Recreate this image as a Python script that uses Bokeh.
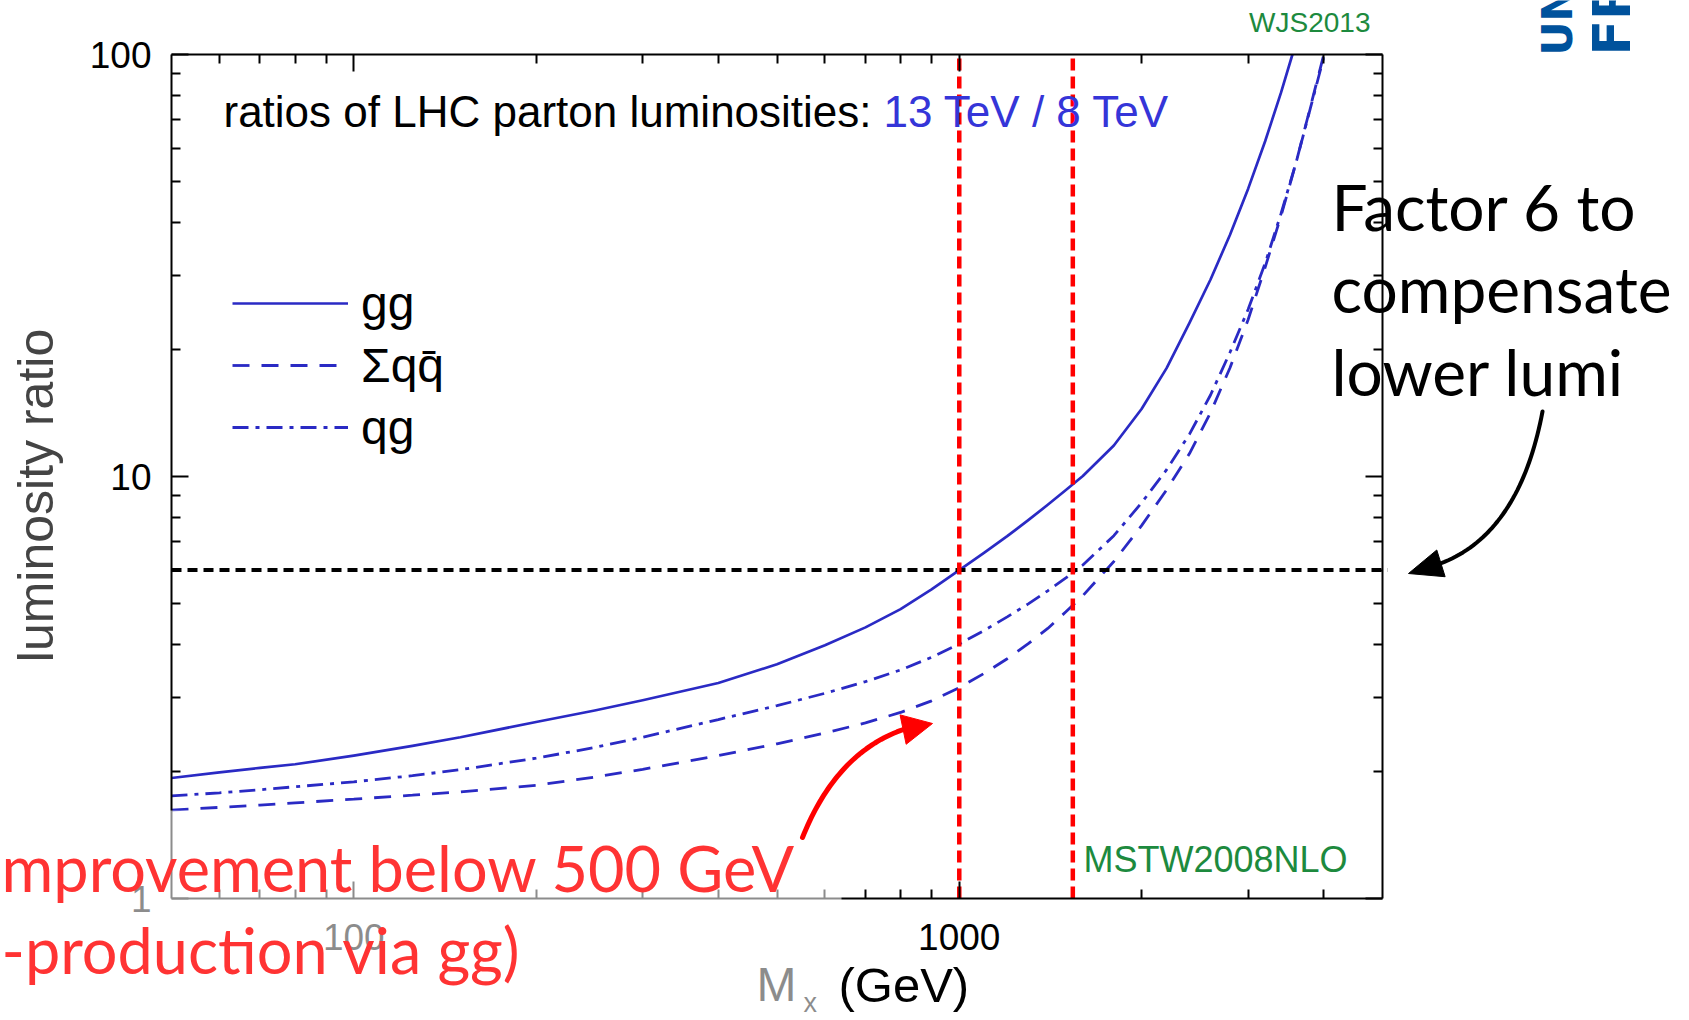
from math import log10, pi, hypot

from bokeh.plotting import figure
from bokeh.models import (Range1d, LogAxis, FixedTicker, PrintfTickFormatter,
                          CustomJSTickFormatter, Label, BoxAnnotation,
                          PolyAnnotation, Legend, LegendItem)
from bokeh.embed import file_html
from bokeh.resources import INLINE

# ---- data: 13 TeV / 8 TeV parton luminosity ratios vs invariant mass (GeV)
mass_gg = [50, 60, 70, 80, 100, 125, 150, 200, 250, 300, 400, 500, 600, 700, 800,
           900, 1000, 1100, 1200, 1300, 1400, 1500, 1600, 1800, 2000, 2200, 2400,
           2600, 2800, 3000, 3200, 3400, 3550]
ratio_gg = [1.93, 1.99, 2.04, 2.08, 2.18, 2.30, 2.41, 2.62, 2.79, 2.95, 3.24, 3.59,
            3.98, 4.39, 4.85, 5.40, 6.00, 6.60, 7.22, 7.88, 8.57, 9.29, 10.03, 11.84,
            14.45, 18.06, 23.12, 29.3, 37.4, 48.1, 62.3, 81.3, 100.0]

mass_qq = [50, 60, 70, 80, 100, 125, 150, 200, 250, 300, 400, 500, 600, 700, 800,
           900, 1000, 1100, 1200, 1300, 1400, 1500, 1600, 1800, 2000, 2200, 2400,
           2600, 2800, 3000, 3200, 3400, 3600, 3800, 4000]
ratio_qq = [1.62, 1.644, 1.665, 1.685, 1.72, 1.757, 1.789, 1.854, 1.94, 2.023, 2.18,
            2.326, 2.466, 2.607, 2.76, 2.94, 3.16, 3.418, 3.70, 4.017, 4.365, 4.78,
            5.22, 6.29, 7.65, 9.30, 11.33, 14.18, 18.1, 23.55, 31.3, 41.5, 55.5,
            75.0, 100.0]

mass_qg = [50, 60, 70, 80, 100, 125, 150, 200, 250, 300, 400, 500, 600, 700, 800,
           900, 1000, 1100, 1200, 1300, 1400, 1500, 1600, 1800, 2000, 2200, 2400,
           2600, 2800, 3000, 3200, 3400, 3600, 3800, 4010]
ratio_qg = [1.75, 1.78, 1.81, 1.84, 1.89, 1.955, 2.02, 2.15, 2.28, 2.41, 2.655,
            2.864, 3.064, 3.265, 3.48, 3.73, 4.01, 4.32, 4.65, 4.99, 5.36, 5.75,
            6.17, 7.24, 8.66, 10.38, 12.6, 15.6, 19.7, 24.9, 32.0, 42.0, 55.5,
            74.5, 100.0]

# masses where the curves reach the target factor, and the factor itself
marker_masses = [1000, 1540]
target_ratio = 6

# ticks
x_major = [100, 1000]
x_minor = [60, 70, 80, 90, 200, 300, 400, 500, 600, 700, 800, 900, 2000, 3000, 4000]
y_major = [1, 10, 100]
y_minor = [2, 3, 4, 5, 6, 7, 8, 9, 20, 30, 40, 50, 60, 70, 80, 90]

# ---- page geometry (pixels) and axis limits
W, H = 1689, 1020
FL, FR, FT, FB = 171, 1382, 54, 898
XMIN, XMAX = 50, 5000
YMIN, YMAX = 1, 100

BLUE = "#2a2ac4"
GREEN = "#1d8a3e"
SANS = "Liberation Sans"
LATO = "Lato"
MID = {SANS: 0.3465, LATO: 0.387, "DejaVu Sans": 0.346}

DEC_X = (FR - FL) / (log10(XMAX) - log10(XMIN))
DEC_Y = (FB - FT) / (log10(YMAX) - log10(YMIN))


def to_dx(sx):
    return 10 ** (log10(XMIN) + (sx - FL) / DEC_X)


def to_dy(sy):
    return 10 ** (log10(YMIN) + (FB - sy) / DEC_Y)


# the drawing area spans the whole page; the axes sit at fixed data positions
p = figure(width=W, height=H, x_axis_type="log", y_axis_type="log",
           x_axis_location=None, y_axis_location=None,
           x_range=Range1d(to_dx(0), to_dx(W)), y_range=Range1d(to_dy(H), to_dy(0)),
           output_backend="svg", toolbar_location=None,
           min_border_left=0, min_border_right=0, min_border_top=0, min_border_bottom=0)
p.title.visible = False
p.grid.visible = False
p.outline_line_color = None
p.background_fill_color = "white"
p.border_fill_color = "white"


def make_axis(loc, bounds, major, minor, show_labels, standoff):
    ax = LogAxis(fixed_location=loc, bounds=bounds)
    ax.ticker = FixedTicker(ticks=major, minor_ticks=minor)
    ax.axis_line_color = "black"
    ax.axis_line_width = 2
    ax.major_tick_in = 17
    ax.major_tick_out = 0
    ax.minor_tick_in = 9
    ax.minor_tick_out = 0
    ax.major_tick_line_width = 2
    ax.minor_tick_line_width = 2
    ax.major_tick_line_color = "black"
    ax.minor_tick_line_color = "black"
    if show_labels:
        ax.formatter = PrintfTickFormatter(format="%d")
        ax.major_label_text_font = SANS
        ax.major_label_text_font_size = "37px"
        ax.major_label_text_color = "black"
        ax.major_label_standoff = standoff
    else:
        ax.formatter = CustomJSTickFormatter(code="return ''")
        ax.major_label_text_font_size = "1px"
    return ax


p.add_layout(make_axis(YMIN, (XMIN, XMAX), x_major, x_minor, True, 25), "below")
p.add_layout(make_axis(YMAX, (XMIN, XMAX), x_major, x_minor, False, 0), "above")
p.add_layout(make_axis(XMIN, (YMIN, YMAX), y_major, y_minor, True, 20), "left")
p.add_layout(make_axis(XMAX, (YMIN, YMAX), y_major, y_minor, False, 0), "right")

# ---- luminosity ratio curves
r_gg = p.line(mass_gg, ratio_gg, line_color=BLUE, line_width=2.7, line_join="round")
r_qq = p.line(mass_qq, ratio_qq, line_color=BLUE, line_width=2.8, line_dash="17 12")
r_qg = p.line(mass_qg, ratio_qg, line_color=BLUE, line_width=2.8, line_dash="16 7 4 7")

legend = Legend(items=[LegendItem(label="gg", renderers=[r_gg]),
                       LegendItem(label="\u03a3qq\u0304", renderers=[r_qq]),
                       LegendItem(label="qg", renderers=[r_qg])],
                location=(232, H - 458), orientation="vertical",
                glyph_width=116, glyph_height=62, label_height=62,
                label_standoff=13, spacing=0, padding=0, margin=0,
                border_line_color=None, background_fill_alpha=0,
                label_text_font=SANS, label_text_font_size="48px",
                label_text_baseline="middle", label_text_color="black")
p.add_layout(legend)

# ---- target factor and the masses where it is reached
p.segment(x0=[XMIN], y0=[target_ratio], x1=[XMAX * 1.02], y1=[target_ratio],
          line_color="black", line_width=4, line_dash="10 6")
p.segment(x0=marker_masses, y0=[YMIN] * len(marker_masses),
          x1=marker_masses, y1=[YMAX] * len(marker_masses),
          line_color="#ff0000", line_width=4.5, line_dash="12 6")


def add_text(sx, base_sy, text, size, color="black", font=SANS, align="left",
             angle=0.0, style="normal", center=None):
    """Place a text by its baseline (or by its centre line when given)."""
    mid = center if center is not None else base_sy - MID[font] * size
    if angle:
        p.add_layout(Label(x=to_dx(mid), y=to_dy(base_sy), text=text, text_font=font,
                           text_font_size=f"{size}px", text_color=color,
                           text_align=align, text_baseline="middle", angle=angle,
                           text_font_style=style))
    else:
        p.add_layout(Label(x=to_dx(sx), y=to_dy(mid), text=text, text_font=font,
                           text_font_size=f"{size}px", text_color=color,
                           text_align=align, text_baseline="middle",
                           text_font_style=style))


# ---- plot texts
add_text(223, 126, "ratios of LHC parton luminosities:", 44)
add_text(883, 126, "13 TeV / 8 TeV", 44, color="#3535d8")
add_text(1370, 32, "WJS2013", 28, color=GREEN, align="right")
add_text(1083, 871, "MSTW2008NLO", 36, color=GREEN)
add_text(756, 1001, "M", 48)
add_text(803, 1012, "x", 27)
add_text(838, 1001, "(GeV)", 49)
p.add_layout(Label(x=to_dx(35), y=to_dy(495), text="luminosity ratio", text_font=SANS,
                   text_font_size="50px", text_align="center", text_baseline="middle",
                   angle=pi / 2))

# faded panel behind the red note
p.add_layout(BoxAnnotation(left=to_dx(-5), right=to_dx(841), top=to_dy(810),
                           bottom=to_dy(H + 10), fill_color="white", fill_alpha=0.55,
                           line_color=None))


def qbez(p0, p1, p2, n=40):
    pts = []
    for i in range(n + 1):
        t = i / n
        a, b, c = (1 - t) ** 2, 2 * (1 - t) * t, t ** 2
        pts.append((a * p0[0] + b * p1[0] + c * p2[0], a * p0[1] + b * p1[1] + c * p2[1]))
    return pts


def curved_arrow(p0, p1, p2, tip, head_len, head_half, color, width):
    pts = qbez(p0, p1, p2)
    path = pts + pts[::-1]
    p.add_layout(PolyAnnotation(xs=[to_dx(x) for x, _ in path],
                                ys=[to_dy(y) for _, y in path],
                                fill_color=None, fill_alpha=0, line_color=color,
                                line_alpha=1.0, line_width=width, line_join="round"))
    dxv, dyv = tip[0] - p2[0], tip[1] - p2[1]
    ln = hypot(dxv, dyv)
    ux, uy = dxv / ln, dyv / ln
    bx, by = tip[0] - head_len * ux, tip[1] - head_len * uy
    nx, ny = -uy, ux
    head = [tip, (bx + head_half * nx, by + head_half * ny),
            (bx - head_half * nx, by - head_half * ny)]
    p.add_layout(PolyAnnotation(xs=[to_dx(x) for x, _ in head],
                                ys=[to_dy(y) for _, y in head],
                                fill_color=color, fill_alpha=1.0,
                                line_color=color, line_alpha=1.0, line_width=1))


# ---- side notes
add_text(1331, 231, "Factor 6 to", 64, font=LATO)
add_text(1331, 313, "compensate", 64, font=LATO)
add_text(1331, 396, "lower lumi", 64, font=LATO)
curved_arrow((1542, 411), (1519, 533), (1440, 563), (1408, 573), 34, 14, "black", 4)

add_text(1, 891, "mprovement below 500 GeV", 63, color="#ff3333", font=LATO)
add_text(1, 973, "-production via gg)", 63, color="#ff3333", font=LATO)
curved_arrow((802, 837), (836, 752), (903, 729), (932, 723), 30, 15, "#ff0000", 5)

# logo
add_text(0, 55, "UNI", 42, color="#00529c", font="DejaVu Sans", angle=pi / 2,
         style="bold", center=1572 - 0.346 * 42)
add_text(0, 55, "FREIBURG", 52, color="#00529c", font="DejaVu Sans", angle=pi / 2,
         style="bold", center=1629 - 0.346 * 52)

open("out.html", "w").write(file_html(p, INLINE))
